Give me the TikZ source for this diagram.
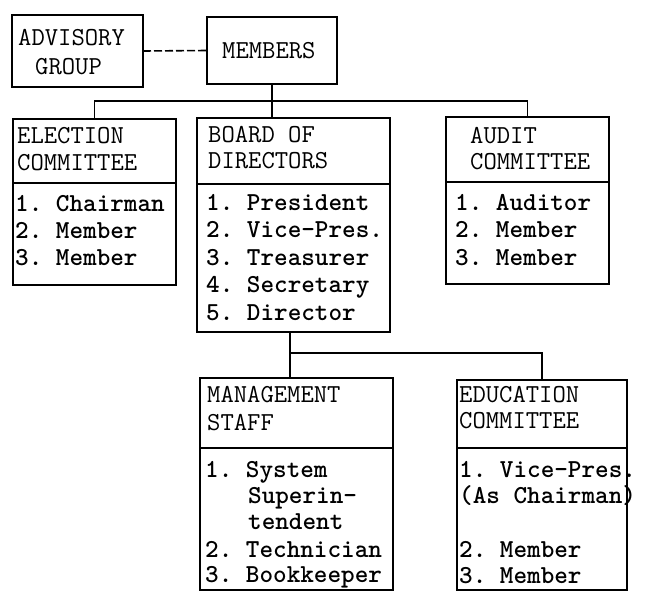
\documentclass[tikz,border=0pt]{standalone}
\tikzset{
  box/.style={draw, line width=1.6pt, rectangle, inner sep=0pt, outer sep=0pt, anchor=north west},
  txt/.style={font=\ttfamily\frenchspacing\fontsize{25.9}{26.7}\selectfont, inner sep=0pt, anchor=base west},
  item/.style={txt, font=\ttfamily\bfseries\frenchspacing\fontsize{25.9}{26.7}\selectfont},
  link/.style={line width=1.6pt},
  sep/.style={line width=1.6pt},
}
\begin{document}
\begin{tikzpicture}[x=1pt,y=1pt]
\useasboundingbox (0,0) rectangle (645,-592);
% boxes
\node[box, minimum width=131pt, minimum height=72pt] (adv) at (12,-15) {};
\node[box, minimum width=130pt, minimum height=67pt] (mem) at (207,-17) {};
\node[box, minimum width=163pt, minimum height=166pt] (elec) at (13,-119) {};
\node[box, minimum width=193pt, minimum height=214pt] (board) at (197,-118) {};
\node[box, minimum width=163pt, minimum height=167pt] (audit) at (446,-117) {};
\node[box, minimum width=193pt, minimum height=212pt] (mgmt) at (200,-378) {};
\node[box, minimum width=170pt, minimum height=210pt] (edu) at (457,-380) {};
% separators
\draw[sep] ([yshift=-64pt]elec.north west) -- ([yshift=-64pt]elec.north east);
\draw[sep] ([yshift=-66pt]board.north west) -- ([yshift=-66pt]board.north east);
\draw[sep] ([yshift=-65pt]audit.north west) -- ([yshift=-65pt]audit.north east);
\draw[sep] ([yshift=-70pt]mgmt.north west) -- ([yshift=-70pt]mgmt.north east);
\draw[sep] ([yshift=-68pt]edu.north west) -- ([yshift=-68pt]edu.north east);
% connectors
\draw[link, dash pattern=on 8pt off 3pt] (adv.east) -- (mem.west);
\coordinate (j1) at (272,-101);
\draw[link] (mem.south) -- (board.north -| mem.south);
\draw[link] (elec.north) |- (j1) -| (audit.north);
\coordinate (j2) at (290,-353);
\draw[link] (board.south -| j2) -- (mgmt.north -| j2);
\draw[link] (j2) -| (edu.north);
% texts
\node[txt] (a1) at (18,-45) {ADVISORY};
\node[txt] (a2) at (35,-74) {GROUP};
\node[txt] (m1) at (222,-58) {MEMBERS};
\node[txt] (e1) at (17,-143) {ELECTION};
\node[txt] (e2) at (17,-170) {COMMITTEE};
\node[item] (e3) at (15,-211) {1. Chairman};
\node[item] (e4) at (15,-238) {2. Member};
\node[item] (e5) at (15,-265) {3. Member};
\node[txt] (b1) at (208,-142) {BOARD OF};
\node[txt] (b2) at (208,-168) {DIRECTORS};
\node[item] (b3) at (206,-210) {1. President};
\node[item] (b4) at (206,-237) {2. Vice-Pres.};
\node[item] (b5) at (206,-265) {3. Treasurer};
\node[item] (b6) at (206,-292) {4. Secretary};
\node[item] (b7) at (206,-320) {5. Director};
\node[txt] (u1) at (470,-143) {AUDIT};
\node[txt] (u2) at (470,-169) {COMMITTEE};
\node[item] (u3) at (455,-210) {1. Auditor};
\node[item] (u4) at (455,-237) {2. Member};
\node[item] (u5) at (455,-265) {3. Member};
\node[txt] (g1) at (207,-402) {MANAGEMENT};
\node[txt] (g2) at (207,-430) {STAFF};
\node[item] (g3) at (205,-477) {1. System};
\node[item] (g4) at (248,-503) {Superin-};
\node[item] (g5) at (248,-529) {tendent};
\node[item] (g6) at (205,-557) {2. Technician};
\node[item] (g7) at (205,-582) {3. Bookkeeper};
\node[txt] (d1) at (459,-402) {EDUCATION};
\node[txt] (d2) at (459,-428) {COMMITTEE};
\node[item] (d3) at (459,-477) {1. Vice-Pres.};
\node[item] (d4) at (459,-503) {(As Chairman)};
\node[item] (d5) at (459,-557) {2. Member};
\node[item] (d6) at (459,-583) {3. Member};
\end{tikzpicture}
\end{document}
